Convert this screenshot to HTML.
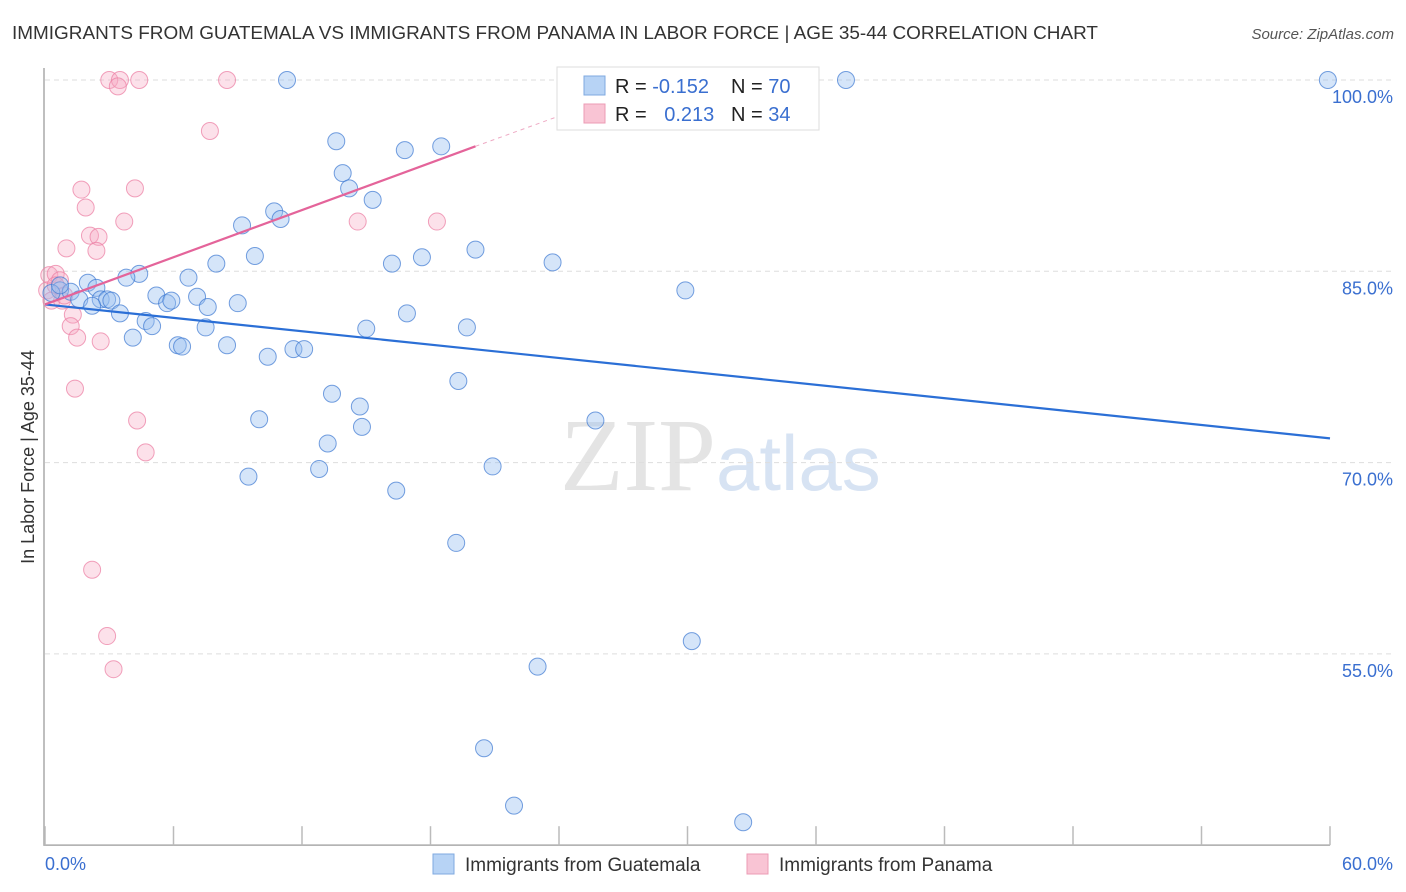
<!DOCTYPE html>
<html><head><meta charset="utf-8"><style>
body{margin:0;background:#fff;font-family:"Liberation Sans",sans-serif;}
#wrap{position:relative;width:1406px;height:892px;overflow:hidden;}
</style></head><body>
<div id="wrap">
<svg id="svg" width="1406" height="892" xmlns="http://www.w3.org/2000/svg">
<text x="12" y="39" font-size="18" fill="#333" textLength="1086" lengthAdjust="spacingAndGlyphs">IMMIGRANTS FROM GUATEMALA VS IMMIGRANTS FROM PANAMA IN LABOR FORCE | AGE 35-44 CORRELATION CHART</text>
<text x="1394" y="39" font-size="15" fill="#555" font-style="italic" text-anchor="end">Source: ZipAtlas.com</text>
<text x="716" y="490" font-size="104" fill="#e4e4e4" text-anchor="end" font-family="Liberation Serif">ZIP</text>
<text x="716" y="490" font-size="78" fill="#d7e3f3">atlas</text>
<text transform="translate(34,457) rotate(-90)" font-size="18" fill="#333" text-anchor="middle">In Labor Force | Age 35-44</text>
<g id="grid"></g><g id="marks"></g><g id="lines"></g>
<g>
<rect x="557" y="67" width="262" height="63" fill="#fff" stroke="#ddd"/>
<rect x="584" y="76" width="21" height="19" fill="#b7d3f5" stroke="#7fa9e0"/>
<rect x="584" y="104" width="21" height="19" fill="#f9c4d4" stroke="#ec9bb5"/>
<text x="615" y="93" font-size="20" fill="#222">R = <tspan fill="#3a6fd0">-0.152</tspan></text>
<text x="731" y="93" font-size="20" fill="#222">N = <tspan fill="#3a6fd0">70</tspan></text>
<text x="615" y="121" font-size="20" fill="#222">R = <tspan fill="#3a6fd0" dx="12">0.213</tspan></text>
<text x="731" y="121" font-size="20" fill="#222">N = <tspan fill="#3a6fd0">34</tspan></text>
</g>
<g>
<rect x="433" y="854" width="21" height="20" fill="#b7d3f5" stroke="#7fa9e0"/>
<text x="465" y="871" font-size="19" fill="#333">Immigrants from Guatemala</text>
<rect x="747" y="854" width="21" height="20" fill="#f9c4d4" stroke="#ec9bb5"/>
<text x="779" y="871" font-size="19" fill="#333">Immigrants from Panama</text>
</g>
</svg>
</div>
<script>
const yTicks=[100,85,70,55];
const yTickLabels=["100.0%","85.0%","70.0%","55.0%"];
const xTicks=[0,6,12,18,24,30,36,42,48,54,60];
const xTickLabels=["0.0%","60.0%"];
const guatX=[11.3,37.4,59.9,13.6,16.8,18.5,13.9,14.2,15.3,9.2,10.7,11.0,20.1,17.6,16.2,23.7,9.8,8.0,6.7,4.4,3.8,2.0,0.7,0.3,1.2,1.6,2.4,2.6,2.9,3.1,2.2,3.5,5.2,5.7,5.9,7.1,7.6,9.0,29.9,16.9,4.7,5.0,7.5,15.0,19.7,4.1,8.5,6.2,6.4,11.6,12.1,10.4,19.3,13.4,14.7,10.0,14.8,25.7,13.2,12.8,20.9,9.5,16.4,19.2,30.2,23.0,20.5,21.9,32.6,0.7];
const guatY=[100,100,100,95.2,94.5,94.8,92.7,91.5,90.6,88.6,89.7,89.1,86.7,86.1,85.6,85.7,86.2,85.6,84.5,84.8,84.5,84.1,83.5,83.3,83.4,82.8,83.7,82.8,82.8,82.7,82.3,81.7,83.1,82.5,82.7,83.0,82.2,82.5,83.5,81.7,81.1,80.7,80.6,80.5,80.6,79.8,79.2,79.2,79.1,78.9,78.9,78.3,76.4,75.4,74.4,73.4,72.8,73.3,71.5,69.5,69.7,68.9,67.8,63.7,56.0,54.0,47.6,43.1,41.8,83.9];
const panX=[3.0,3.5,4.4,8.5,3.4,7.7,1.7,4.2,1.9,3.7,14.6,18.3,2.1,2.5,2.4,1.0,0.2,0.5,0.7,0.1,0.3,0.8,1.3,1.2,1.5,2.6,1.4,4.3,4.7,2.2,2.9,3.2,0.5,0.9];
const panY=[100,100,100,100,99.5,96.0,91.4,91.5,90.0,88.9,88.9,88.9,87.8,87.7,86.6,86.8,84.7,84.8,84.3,83.5,82.7,82.7,81.6,80.7,79.8,79.5,75.8,73.3,70.8,61.6,56.4,53.8,83.9,83.1];
const guatTrend=[[0,82.4],[60,71.9]];
const panTrend=[[0,82.4],[20.1,94.8]];
const panTrendExt=[[20.1,94.8],[25.2,97.9]];

const NS="http://www.w3.org/2000/svg";
const X=v=>45+v/60*1285;
const Y=v=>80+(100-v)*12.753;
function mk(tag,attrs,parent){const e=document.createElementNS(NS,tag);for(const k in attrs)e.setAttribute(k,attrs[k]);parent.appendChild(e);return e;}
const grid=document.getElementById('grid'),marks=document.getElementById('marks'),lines=document.getElementById('lines');
yTicks.forEach((t,i)=>{
 const l=mk('line',{x1:45,x2:1392,y1:Y(t),y2:Y(t),stroke:'#ddd','stroke-dasharray':'5,4'},grid);
 
 
 const tx=mk('text',{x:1393,y:Y(t)+23,'font-size':18,fill:'#3a6fd0','text-anchor':'end'},grid);
 tx.textContent=yTickLabels[i];
 
 
});
const ax=mk('path',{d:`M44,68 V${Y(40)} H1330`,stroke:'#aaa',fill:'none','stroke-width':1.5},grid);


xTicks.forEach(t=>{
 const l=mk('line',{x1:X(t),x2:X(t),y1:Y(40)-19,y2:Y(40),stroke:'#bbb','stroke-width':1.5},grid);
 
 
});
const xl0=mk('text',{x:45,y:870,'font-size':18,fill:'#3a6fd0'},grid);xl0.textContent=xTickLabels[0];


const xl1=mk('text',{x:1393,y:870,'font-size':18,fill:'#3a6fd0','text-anchor':'end'},grid);xl1.textContent=xTickLabels[1];


panX.forEach((v,i)=>{
 const c=mk('circle',{cx:X(v),cy:Y(panY[i]),r:8.5,fill:'rgba(246,170,195,0.35)',stroke:'rgba(236,130,165,0.75)','stroke-width':1},marks);
 
 
});
guatX.forEach((v,i)=>{
 const c=mk('circle',{cx:X(v),cy:Y(guatY[i]),r:8.5,fill:'rgba(150,190,240,0.4)',stroke:'rgba(60,120,210,0.7)','stroke-width':1},marks);
 
 
});
const bl=mk('line',{x1:X(guatTrend[0][0]),y1:Y(guatTrend[0][1]),x2:X(guatTrend[1][0]),y2:Y(guatTrend[1][1]),stroke:'#2b6fd6','stroke-width':2.2},lines);


const pl=mk('line',{x1:X(panTrend[0][0]),y1:Y(panTrend[0][1]),x2:X(panTrend[1][0]),y2:Y(panTrend[1][1]),stroke:'#e4649a','stroke-width':2.2},lines);


const pe=mk('line',{x1:X(panTrendExt[0][0]),y1:Y(panTrendExt[0][1]),x2:X(panTrendExt[1][0]),y2:Y(panTrendExt[1][1]),stroke:'#eeaac4','stroke-width':1,'stroke-dasharray':'4,4'},lines);


</script>
</body></html>
